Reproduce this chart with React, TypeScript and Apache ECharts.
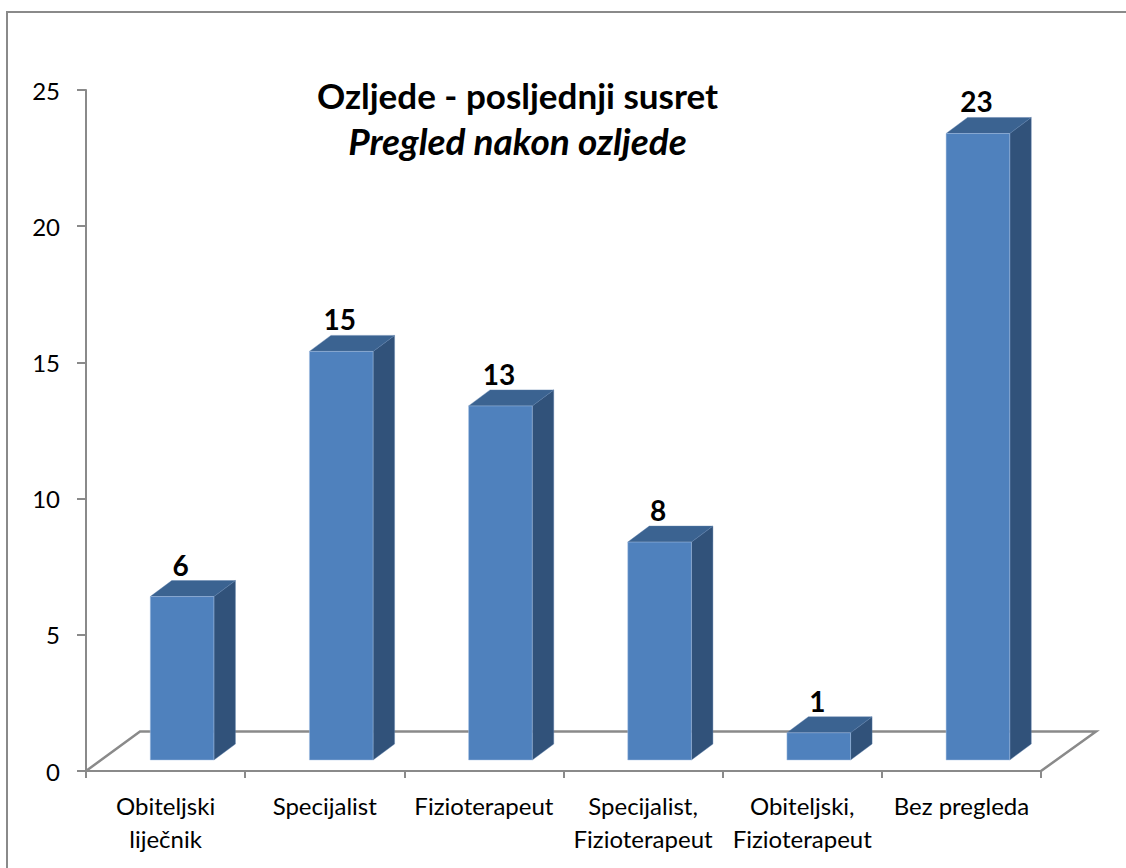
import React, { useEffect, useRef } from "react";
import * as echarts from "echarts";

const categories = [
  "Obiteljski\nliječnik",
  "Specijalist",
  "Fizioterapeut",
  "Specijalist,\nFizioterapeut",
  "Obiteljski,\nFizioterapeut",
  "Bez pregleda",
];
const values = [6, 15, 13, 8, 1, 23];
const titleText = "Ozljede - posljednji susret";
const subtitleText = "Pregled nakon ozljede";

const FONT = "Lato, Carlito, Calibri, sans-serif";
const AXIS = "#8a8a8a";

export default function App() {
  const ref = useRef<HTMLDivElement>(null);
  useEffect(() => {
    document.body.style.margin = "0";
    document.body.style.background = "#fff";
    const chart = echarts.init(ref.current!, null, { renderer: "svg" });

    const renderFloor = (params: any, api: any) => {
      const c = params.coordSys;
      const l = c.x, r = c.x + c.width, b = c.y + c.height;
      return {
        type: "polyline",
        silent: true,
        shape: { points: [[l, b], [l + 54, b - 39.5], [r + 55, b - 39.5], [r, b]] },
        style: { stroke: AXIS, lineWidth: 2.5, fill: null },
      };
    };

    const renderBar = (params: any, api: any) => {
      const idx = api.value(0);
      const v = api.value(1);
      const band = api.size([1, 0])[0];
      const [cx, top0] = api.coord([idx, v]);
      const [, base0] = api.coord([idx, 0]);
      const w = band * 0.4;
      const l = cx + 16.5 - w / 2;
      const r = l + w;
      const top = top0 - 11;
      const base = base0 - 11;
      const dx = 21.5;
      const dy = 16;
      const edge = "rgba(170,195,230,0.6)";
      return {
        type: "group",
        children: [
          {
            type: "polygon",
            shape: { points: [[r, top], [r + dx, top - dy], [r + dx, base - dy], [r, base]] },
            style: { fill: "#31527A", stroke: "rgba(90,125,170,0.5)", lineWidth: 0.8 },
          },
          {
            type: "polygon",
            shape: { points: [[l, top], [l + dx, top - dy], [r + dx, top - dy], [r, top]] },
            style: { fill: "#3B6391", stroke: "rgba(90,125,170,0.5)", lineWidth: 0.8 },
          },
          {
            type: "polygon",
            shape: { points: [[l, top], [r, top], [r, base], [l, base]] },
            style: { fill: "#4F81BD", stroke: edge, lineWidth: 0.8 },
          },
          {
            type: "text",
            style: {
              text: String(v),
              x: (l + r) / 2 - 1.5,
              y: top - dy - 2,
              align: "center",
              verticalAlign: "bottom",
              fontFamily: FONT,
              fontWeight: "bold",
              fontSize: 28,
              fill: "#000",
            },
          },
        ],
      };
    };

    chart.setOption({
      animation: false,
      backgroundColor: "#fff",
      title: {
        text: titleText,
        subtext: subtitleText,
        left: 512.5,
        top: 72,
        textAlign: "center",
        itemGap: 10,
        textStyle: { fontFamily: FONT, fontWeight: "bold", fontSize: 35, color: "#000" },
        subtextStyle: { fontFamily: FONT, fontWeight: "bold", fontStyle: "italic", fontSize: 37, color: "#000" },
      },
      grid: { left: 86, top: 90, width: 955, height: 681 },
      xAxis: {
        type: "category",
        data: categories,
        boundaryGap: true,
        axisLine: { show: true, lineStyle: { color: AXIS, width: 2 } },
        axisTick: { show: true, alignWithLabel: false, length: 7, lineStyle: { color: AXIS, width: 2 } },
        axisLabel: { interval: 0, color: "#000", fontFamily: FONT, fontSize: 24, lineHeight: 33, margin: 18, hideOverlap: false },
      },
      yAxis: {
        type: "value",
        min: 0,
        max: 25,
        interval: 5,
        splitLine: { show: false },
        axisLine: { show: true, lineStyle: { color: AXIS, width: 2 } },
        axisTick: { show: true, length: 9, lineStyle: { color: AXIS, width: 2 } },
        axisLabel: { color: "#000", fontFamily: FONT, fontSize: 24, margin: 26, padding: [2, 0, 0, 0] },
      },
      graphic: [
        {
          type: "polyline",
          silent: true,
          shape: { points: [[7, 868], [7, 12], [1126, 12]] },
          style: { stroke: AXIS, lineWidth: 2, fill: null },
        },
      ],
      series: [
        { type: "custom", name: "floor", renderItem: renderFloor, data: [[0, 0]], silent: true, z: 1 },
        {
          type: "custom",
          name: "bars",
          renderItem: renderBar,
          encode: { x: 0, y: 1 },
          data: values.map((v, i) => [i, v]),
          z: 2,
        },
      ],
    });
    return () => chart.dispose();
  }, []);
  return <div ref={ref} style={{ width: 1126, height: 868 }} />;
}
